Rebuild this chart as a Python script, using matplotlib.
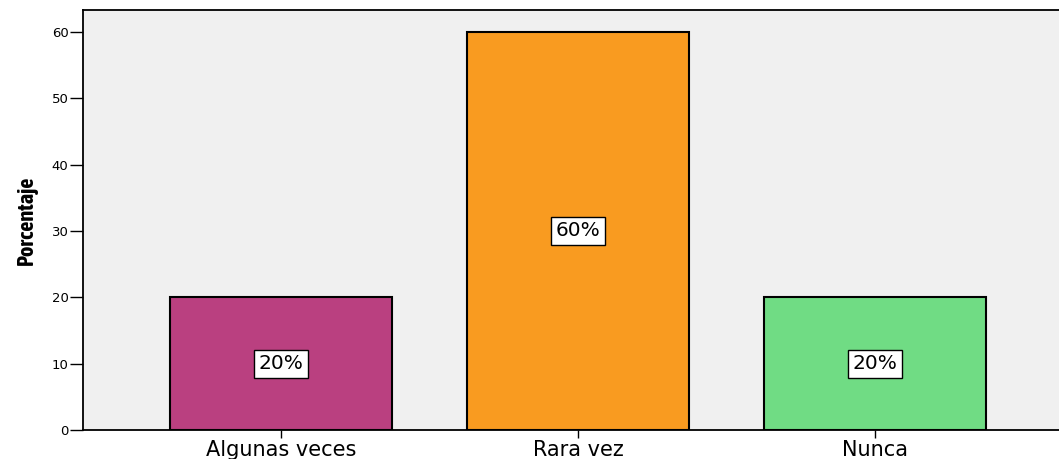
import matplotlib.pyplot as plt
from matplotlib import font_manager

categories = ['Algunas veces', 'Rara vez', 'Nunca']
percentages = [20, 60, 20]
bar_colors = ['#BA4080', '#F99B20', '#70DC84']

# condensed bold font for the axis title if there is one
bold_narrow = sorted({f.name for f in font_manager.fontManager.ttflist
                      if ('Narrow' in f.name or 'Condensed' in f.name)
                      and (f.weight in ('bold', 700) or str(f.weight) == '700')})
label_font = bold_narrow[0] if bold_narrow else 'Liberation Sans'

plt.rcParams['font.family'] = ['DejaVu Sans']

fig = plt.figure(figsize=(10.59, 4.59), dpi=100)
ax = fig.add_axes([0.0784, 0.0632, 0.9216, 0.915])
ax.set_facecolor('#F0F0F0')

x = list(range(len(categories)))
ax.bar(x, percentages, width=0.747, color=bar_colors, edgecolor='black', linewidth=1.5, zorder=2)

# percentage labels in boxes, centred in each bar
for xi, v in zip(x, percentages):
    ax.text(xi, v / 2, f'{v}%', ha='center', va='center', fontsize=14.5,
            bbox=dict(boxstyle='square,pad=0.22', facecolor='white', edgecolor='black', linewidth=1),
            zorder=3)

ax.set_xlim(-0.667, 2.62)
ax.set_ylim(0, 63.3)
ax.set_yticks(range(0, 61, 10))
ax.set_xticks(x)
ax.set_xticklabels(categories, fontsize=15)
ax.tick_params(axis='y', labelsize=9.5, length=9.5, width=1, pad=1)
ax.tick_params(axis='x', length=5.5, width=1, pad=2)

for side in ['left', 'bottom', 'top']:
    ax.spines[side].set_linewidth(1.3)
ax.spines['right'].set_visible(False)

ax.set_ylabel('Porcentaje', fontsize=16, fontweight='bold', family=label_font, labelpad=10)

fig.savefig('out.png', dpi=100)
